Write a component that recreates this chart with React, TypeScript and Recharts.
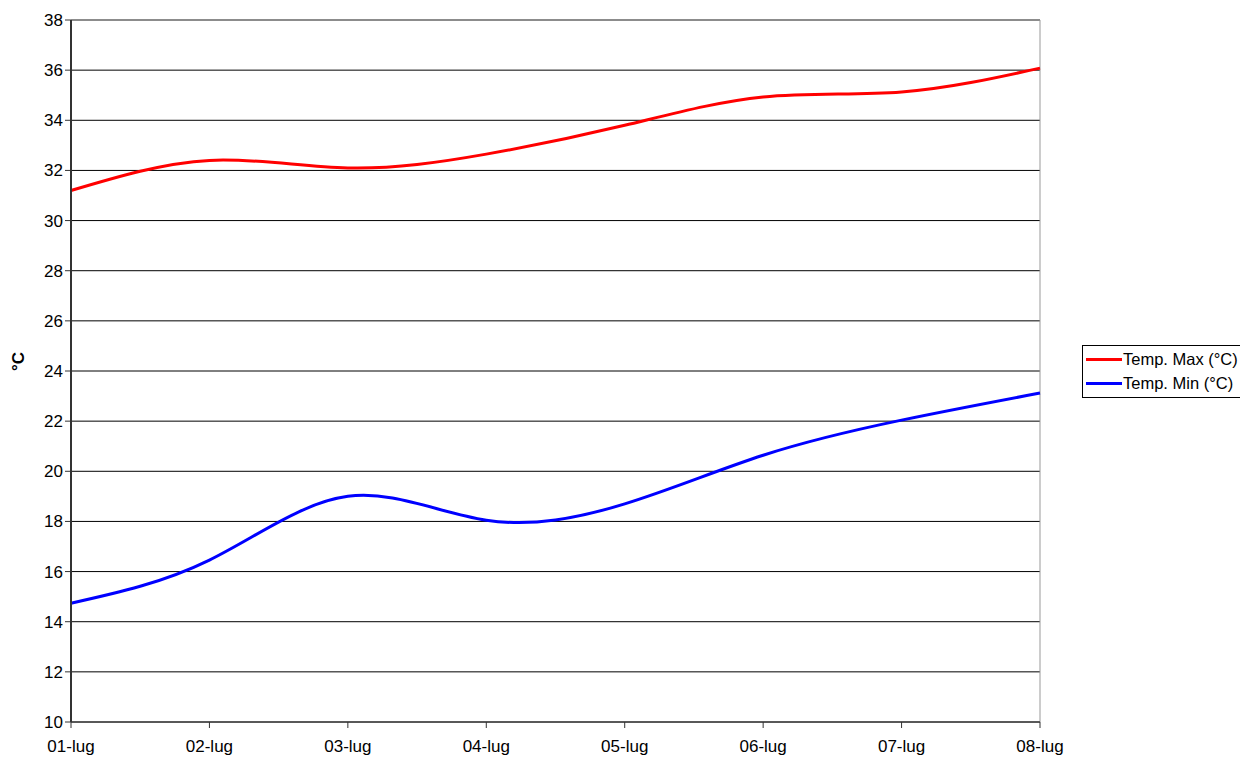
import React from 'react';
import { LineChart, Line, XAxis, YAxis, CartesianGrid, ReferenceLine } from 'recharts';

const days = ['01-lug', '02-lug', '03-lug', '04-lug', '05-lug', '06-lug', '07-lug', '08-lug'];
const tempMax = [31.2, 32.4, 32.1, 32.65, 33.8, 34.93, 35.13, 36.08];
const tempMin = [14.74, 16.46, 19.0, 18.05, 18.7, 20.64, 22.04, 23.12];
const yTicks = [10, 12, 14, 16, 18, 20, 22, 24, 26, 28, 30, 32, 34, 36, 38];

const data = days.map((d, i) => ({ day: d, max: tempMax[i], min: tempMin[i] }));

const font = 'Liberation Sans, Arial, sans-serif';

const App: React.FC = () => {
    return (
        <div style={{ width: 1240, height: 749, position: 'relative' }}>
            <LineChart width={1240} height={749} data={data} margin={{ top: 12, right: 208, left: 0, bottom: 5 }}>
                <CartesianGrid vertical={false} stroke="#000" strokeWidth={1} />
                <ReferenceLine y={38} stroke="#999" strokeWidth={1} />
                <ReferenceLine x="08-lug" stroke="#999" strokeWidth={1} />
                <XAxis
                    dataKey="day"
                    height={30}
                    stroke="#333"
                    tickLine={{ stroke: '#333' }}
                    tickSize={6}
                    tickMargin={12}
                    tick={{ fontSize: 17, fill: '#000', fontFamily: font }}
                    interval={0}
                />
                <YAxis
                    domain={[10, 38]}
                    ticks={yTicks}
                    stroke="#333"
                    strokeWidth={2}
                    tickLine={{ stroke: '#333', strokeWidth: 1 }}
                    tickSize={6}
                    tickMargin={2}
                    width={63}
                    tick={{ fontSize: 17, fill: '#000', fontFamily: font }}
                    label={{ value: '°C', angle: -90, position: 'insideLeft', offset: 10, style: { fontSize: 17, fontWeight: 'bold', fill: '#000', fontFamily: font } }}
                />
                <Line type="natural" dataKey="max" name="Temp. Max (°C)" stroke="#ff0000" strokeWidth={3} dot={false} isAnimationActive={false} />
                <Line type="natural" dataKey="min" name="Temp. Min (°C)" stroke="#0000ff" strokeWidth={3} dot={false} isAnimationActive={false} />
            </LineChart>
            <div style={{ position: 'absolute', left: 1074, top: 337, border: '1px solid #000', background: '#fff', padding: '1px 4px 2px 3px', fontFamily: font, fontSize: 16.5, color: '#000', width: 180, whiteSpace: 'nowrap' }}>
                <div style={{ display: 'flex', alignItems: 'center', height: 24 }}>
                    <div style={{ width: 36, height: 3, background: '#ff0000', marginRight: 1 }}></div>Temp. Max (°C)
                </div>
                <div style={{ display: 'flex', alignItems: 'center', height: 24 }}>
                    <div style={{ width: 36, height: 3, background: '#0000ff', marginRight: 1 }}></div>Temp. Min (°C)
                </div>
            </div>
        </div>
    );
};

export default App;
